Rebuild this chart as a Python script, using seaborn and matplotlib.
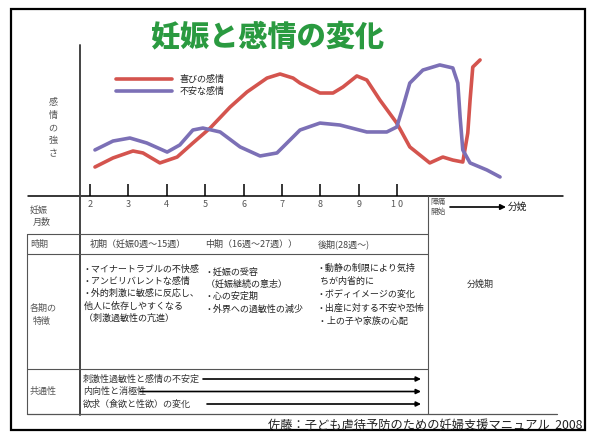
import pandas as pd
import matplotlib.pyplot as plt
import seaborn as sns
from matplotlib.patches import Rectangle

# ---- data ----
months = [2, 3, 4, 5, 6, 7, 8, 9, 10]
month_labels = ['2', '3', '4', '5', '6', '7', '8', '9', '1 0']

joy_x = [2.13, 2.60, 3.12, 3.38, 3.82, 4.27, 4.68, 5.13, 5.65, 6.09, 6.61, 6.95,
         7.29, 7.47, 7.99, 8.33, 8.59, 8.95, 9.21, 9.55, 9.99, 10.33, 10.85,
         11.19, 11.45, 11.71, 11.84, 11.90, 11.97, 12.16]
joy_y = [19.2, 25.2, 29.8, 28.5, 21.9, 25.8, 35.1, 45.0, 58.9, 68.9, 78.1, 80.8,
         78.1, 74.8, 68.2, 68.2, 72.2, 79.5, 76.8, 63.6, 48.3, 32.5, 21.9,
         25.8, 23.8, 22.5, 41.7, 63.6, 85.4, 90.1]

anx_x = [2.13, 2.60, 3.04, 3.48, 4.01, 4.34, 4.68, 4.94, 5.39, 5.91, 6.43, 6.87,
         7.21, 7.47, 7.99, 8.51, 9.21, 9.73, 9.99, 10.15, 10.33, 10.67, 11.11,
         11.45, 11.58, 11.64, 11.71, 11.90, 12.34, 12.68]
anx_y = [30.5, 36.4, 38.4, 35.1, 29.1, 33.8, 43.7, 45.0, 42.4, 32.5, 26.5, 28.5,
         37.1, 43.7, 48.3, 47.0, 42.4, 42.4, 45.7, 58.9, 74.8, 83.4, 86.8,
         84.8, 74.8, 52.3, 30.5, 21.9, 17.2, 12.6]

series_names = ['喜びの感情', '不安な感情']
series_colors = ['#d4544e', '#7c70b6']

period_labels = ['初期（妊娠0週～15週）', '中期（16週～27週））', '後期(28週～)']
early_notes = ['・マイナートラブルの不快感', '・アンビリバレントな感情',
               '・外的刺激に敏感に反応し、', ' 他人に依存しやすくなる',
               ' （刺激過敏性の亢進）']
mid_notes = ['・妊娠の受容', ' （妊娠継続の意志）', '・心の安定期', '・外界への過敏性の減少']
late_notes = ['・動静の制限により気持', '  ちが内省的に', '・ボディイメージの変化',
              '・出産に対する不安や恐怖', ' ・上の子や家族の心配']
common_notes = ['刺激性過敏性と感情の不安定', '内向性と消極性', '欲求（食欲と性欲）の変化']


def build_frame():
    joy = pd.DataFrame({'month': joy_x, 'intensity': joy_y, 'emotion': series_names[0]})
    anx = pd.DataFrame({'month': anx_x, 'intensity': anx_y, 'emotion': series_names[1]})
    return pd.concat([joy, anx], ignore_index=True)


def draw_table(bg):
    grey = '#555555'
    bg.add_patch(Rectangle((11, 9), 574, 421, fill=False, ec='black', lw=1.6))
    # axes lines
    bg.plot([28, 563], [196, 196], color='black', lw=1.1)
    bg.plot([80, 80], [45, 415], color='#444444', lw=1.4)
    # table grid
    for y in [234, 254, 369]:
        bg.plot([27, 428], [y, y], color=grey, lw=0.8)
    bg.plot([27, 557], [414, 414], color=grey, lw=0.9)
    bg.plot([27, 27], [234, 414], color=grey, lw=0.8)
    bg.plot([428, 428], [196, 414], color=grey, lw=0.8)

    fs = 6.5
    bg.text(30, 210, '妊娠', fontsize=fs, color=grey, va='center')
    bg.text(33, 222, '月数', fontsize=fs, color=grey, va='center')
    bg.text(30, 244, '時期', fontsize=fs, color=grey, va='center')
    bg.text(30, 308, '各期の', fontsize=fs, color=grey, va='center')
    bg.text(33, 321, '特徴', fontsize=fs, color=grey, va='center')
    bg.text(30, 391, '共通性', fontsize=fs, color=grey, va='center')

    for x, lab in zip([90, 205, 318], period_labels):
        bg.text(x, 244, lab, fontsize=fs, color='#444444', va='center')

    for i, t in enumerate(early_notes):
        bg.text(82, 269 + i * 12.3, t, fontsize=fs, color='#222222', va='center')
    for i, t in enumerate(mid_notes):
        bg.text(204, 272 + i * 12.3, t, fontsize=fs, color='#222222', va='center')
    for i, t in enumerate(late_notes):
        bg.text(316, 268 + i * 13.3, t, fontsize=fs, color='#222222', va='center')

    bg.text(480, 284, '分娩期', fontsize=fs, color='#333333', ha='center', va='center')

    starts = [203, 140, 207]
    for i, (t, x0) in enumerate(zip(common_notes, starts)):
        y = 379 + i * 12.5
        bg.text(83, y, t, fontsize=fs, color='#333333', va='center')
        bg.annotate('', xy=(421, y), xytext=(x0, y),
                    arrowprops=dict(arrowstyle='-|>', color='black', lw=1.2,
                                    mutation_scale=7, shrinkA=0, shrinkB=0))

    bg.text(430, 202, '陣痛', fontsize=5.5, color=grey, va='center')
    bg.text(430, 212, '開始', fontsize=5.5, color=grey, va='center')
    bg.annotate('', xy=(506, 207), xytext=(450, 207),
                arrowprops=dict(arrowstyle='-|>', color='black', lw=1.2,
                                mutation_scale=8, shrinkA=0, shrinkB=0))
    bg.text(508, 207, '分娩', fontsize=7, color='#222222', va='center')

    bg.text(583, 425, '佐藤：子ども虐待予防のための妊婦支援マニュアル  2008',
            fontsize=8.8, color='#222222', ha='right', va='center')

    bg.text(268, 37, '妊娠と感情の変化', fontsize=21, fontweight='heavy',
            color='#2a9a40', ha='center', va='center')
    bg.text(53, 128, '\n'.join('感情の強さ'), fontsize=6.5, color=grey,
            ha='center', va='center', linespacing=1.55)


def main():
    sns.set_style('white')
    plt.rcParams['font.family'] = ['Noto Sans CJK JP', 'DejaVu Sans']
    plt.rcParams['xtick.bottom'] = True

    W, H = 594, 438
    fig = plt.figure(figsize=(W / 100, H / 100), dpi=100)
    bg = fig.add_axes([0, 0, 1, 1])
    bg.set_xlim(0, W)
    bg.set_ylim(H, 0)
    bg.axis('off')
    draw_table(bg)

    ax = fig.add_axes([80 / W, 1 - 196 / H, (563 - 80) / W, (196 - 45) / H])
    ax.set_facecolor('none')
    df = build_frame()
    sns.lineplot(data=df, x='month', y='intensity', hue='emotion',
                 palette=dict(zip(series_names, series_colors)),
                 sort=False, estimator=None, linewidth=2.6,
                 solid_capstyle='round', solid_joinstyle='round', ax=ax)
    ax.set_xlim(1.74, 14.32)
    ax.set_ylim(0, 100)
    for s in ax.spines.values():
        s.set_visible(False)
    ax.set_xticks(months)
    ax.set_xticklabels(month_labels)
    ax.set_yticks([])
    ax.tick_params(axis='x', which='major', direction='in', length=9, width=1.1,
                   color='black', labelsize=6.5, labelcolor='#555555', pad=3,
                   bottom=True, labelbottom=True)
    ax.set_xlabel('')
    ax.set_ylabel('')

    handles, labels = ax.get_legend_handles_labels()
    ax.legend(handles, labels, loc='upper left', bbox_to_anchor=(116 / W, 1 - 75 / H),
              bbox_transform=fig.transFigure, frameon=False, fontsize=6.5,
              handlelength=6.2, handletextpad=0.8, labelspacing=0.35,
              borderpad=0, borderaxespad=0)

    fig.savefig('out.png', dpi=100)


if __name__ == "__main__":
    main()
